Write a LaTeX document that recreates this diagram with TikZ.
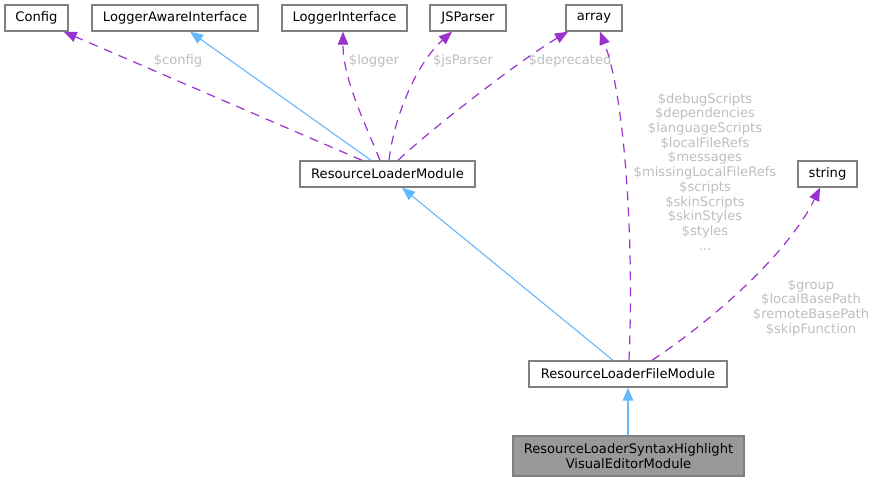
\documentclass[tikz,border=0pt]{standalone}
\usepackage{fontspec}
\setmainfont{DejaVu Sans}
\usetikzlibrary{arrows.meta}
\definecolor{edgepurple}{HTML}{9A32CD}
\definecolor{edgeblue}{HTML}{63B8FF}
\definecolor{lblgray}{HTML}{BEBEBE}
\definecolor{boxborder}{HTML}{808080}
\definecolor{boxfill}{HTML}{999999}
\begin{document}
\begin{tikzpicture}[x=1pt,y=-1pt,
  cls/.style={draw=boxborder, fill=white, line width=1.4pt, inner sep=0pt, minimum height=26pt, font=\fontsize{13.1}{14.7}\selectfont, text=black, align=center},
  hilite/.style={cls, fill=boxfill, minimum height=40pt},
  usage/.style={draw=edgepurple, line width=1.2pt, dash pattern=on 9pt off 7pt, -{Triangle[length=13pt,width=10.5pt]}},
  inherit/.style={draw=edgeblue, line width=1.1pt, -{Triangle[length=13pt,width=10.5pt]}},
  lbl/.style={text=lblgray, font=\fontsize{13.1}{14.7}\selectfont, align=center, inner sep=0pt}]
\useasboundingbox (0,0) rectangle (874,481);
\node[cls, minimum width=63pt] (config) at (36.5,18) {Config};
\node[cls, minimum width=166pt] (lai) at (175,18) {LoggerAwareInterface};
\node[cls, minimum width=125pt] (li) at (344.5,18) {LoggerInterface};
\node[cls, minimum width=76pt] (jsp) at (468,18) {JSParser};
\node[cls, minimum width=56pt] (arr) at (594,18) {array};
\node[cls, minimum width=175pt] (rlm) at (387.5,174) {ResourceLoaderModule};
\node[cls, minimum width=59pt] (str) at (827.5,174) {string};
\node[cls, minimum width=198pt] (rlfm) at (628,374) {ResourceLoaderFileModule};
\node[hilite, minimum width=231pt] (rlsh) at (628.5,456) {ResourceLoaderSyntaxHighlight\\VisualEditorModule};

% ResourceLoaderModule relations
\draw[usage] ([xshift=-25.5pt]rlm.north) -- ([xshift=-5pt]config.south east);
\draw[inherit] ([xshift=-16.5pt]rlm.north) -- ([xshift=15pt]lai.south);
\draw[usage] ([xshift=-7.5pt]rlm.north) .. controls (366,125) and (343,80) .. ([xshift=-1.5pt]li.south);
\draw[usage] ([xshift=1.5pt]rlm.north) .. controls (395,110) and (420,60) .. ([xshift=-16pt]jsp.south);
\draw[usage] ([xshift=10.5pt]rlm.north) .. controls (430,130) and (520,60) .. ([xshift=-26pt]arr.south);

% ResourceLoaderFileModule relations
\draw[inherit] ([xshift=-15pt]rlfm.north) -- ([xshift=14.5pt]rlm.south);
\draw[usage] ([xshift=1pt]rlfm.north) .. controls (634,250) and (626,100) .. ([xshift=6pt]arr.south);
\draw[usage] ([xshift=24pt]rlfm.north) .. controls (720,315) and (790,250) .. ([xshift=-7.5pt]str.south);
\draw[inherit] (rlsh.north -| rlfm.south) -- (rlfm.south);

% labels
\node[lbl] (lconfig) at (178,61) {\$config};
\node[lbl] (llogger) at (374,61) {\$logger};
\node[lbl] (ljs) at (463,61) {\$jsParser};
\node[lbl] (ldep) at (570,61) {\$deprecated};
\node[lbl, anchor=north] (lmany) at (705,93) {\$debugScripts\\\$dependencies\\\$languageScripts\\\$localFileRefs\\\$messages\\\$missingLocalFileRefs\\\$scripts\\\$skinScripts\\\$skinStyles\\\$styles\\...};
\node[lbl, anchor=north] (lstr) at (811,279) {\$group\\\$localBasePath\\\$remoteBasePath\\\$skipFunction};
\end{tikzpicture}
\end{document}
